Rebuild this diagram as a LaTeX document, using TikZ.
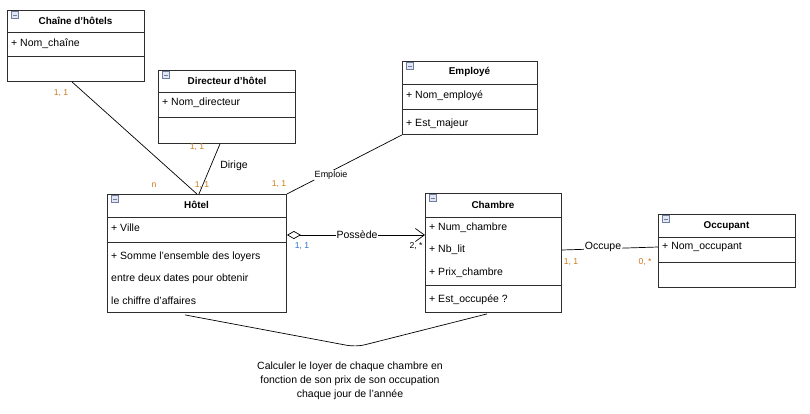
\documentclass[tikz,border=0pt]{standalone}
\usepackage{fontspec}
\setmainfont{Liberation Sans}
\usetikzlibrary{arrows.meta,calc,shadows}
\definecolor{card}{RGB}{205,120,25}
\definecolor{cblue}{RGB}{40,110,200}
\definecolor{bord}{RGB}{45,45,45}
\definecolor{icb}{RGB}{110,125,160}
\definecolor{icf}{RGB}{225,230,242}
\begin{document}
\begin{tikzpicture}[x=1pt,y=-1pt,
  font=\fontsize{10.5}{14}\selectfont,
  cls/.style={draw=bord, fill=white, line width=0.9pt, inner sep=0pt, anchor=north west,
    drop shadow={shadow xshift=1pt, shadow yshift=-1pt, fill=gray!60, opacity=1}},
  sepl/.style={draw=bord, line width=0.9pt},
  hdr/.style={font=\fontsize{9.9}{12}\selectfont\bfseries, inner sep=0pt},
  attr/.style={anchor=west, inner sep=0pt},
  conn/.style={draw=black, line width=0.7pt},
  mult/.style={text=card, inner sep=0pt, font=\fontsize{8.6}{10}\selectfont},
  multb/.style={text=cblue, inner sep=0pt, font=\fontsize{8.6}{10}\selectfont},
  multk/.style={text=black, inner sep=0pt, font=\fontsize{8.6}{10}\selectfont},
  alab/.style={fill=white, inner sep=1pt},
  icon/.pic={\draw[icb, fill=icf, line width=0.6pt] (-3.5,-3.5) rectangle (3.5,3.5);
             \draw[icb, line width=0.8pt] (-2,0) -- (2,0);}
]
\useasboundingbox (0,0) rectangle (810,413);

% ---------- Chaîne d'hôtels
\node[cls, minimum width=137pt, minimum height=71pt] (chaine) at (7,10) {};
\draw[sepl] (7,32.5) -- (144,32.5);
\draw[sepl] (7,56) -- (144,56);
\pic at (15,15) {icon};
\node[hdr] (chaineT) at (75.5,21) {Chaîne d'hôtels};
\node[attr] (chaineA) at (11,44) {+ Nom\_chaîne};

% ---------- Directeur d'hôtel
\node[cls, minimum width=137pt, minimum height=73pt] (dir) at (158,70) {};
\draw[sepl] (158,92) -- (295,92);
\draw[sepl] (158,117) -- (295,117);
\pic at (166,75) {icon};
\node[hdr] (dirT) at (227,81) {Directeur d'hôtel};
\node[attr] (dirA) at (162,103) {+ Nom\_directeur};

% ---------- Employé
\node[cls, minimum width=135pt, minimum height=73pt] (emp) at (402,61) {};
\draw[sepl] (402,84) -- (537,84);
\draw[sepl] (402,109) -- (537,109);
\pic at (410,66) {icon};
\node[hdr] (empT) at (469.5,72) {Employé};
\node[attr] (empA) at (406,96) {+ Nom\_employé};
\node[attr] (empO) at (406,124) {+ Est\_majeur};

% ---------- Hôtel
\node[cls, minimum width=179pt, minimum height=118pt] (hotel) at (107,194) {};
\draw[sepl] (107,217) -- (286,217);
\draw[sepl] (107,242) -- (286,242);
\pic at (115,199) {icon};
\node[hdr] (hotelT) at (196.5,205) {Hôtel};
\node[attr] (hotelA) at (111,228) {+ Ville};
\node[attr] (hotelO1) at (111,257) {+ Somme l'ensemble des loyers};
\node[attr] (hotelO2) at (111,279) {entre deux dates pour obtenir};
\node[attr] (hotelO3) at (111,301) {le chiffre d'affaires};

% ---------- Chambre
\node[cls, minimum width=136pt, minimum height=119pt] (ch) at (425,193) {};
\draw[sepl] (425,217) -- (561,217);
\draw[sepl] (425,285) -- (561,285);
\pic at (433,198) {icon};
\node[hdr] (chT) at (493,205) {Chambre};
\node[attr] (chA1) at (429,228) {+ Num\_chambre};
\node[attr] (chA2) at (429,250) {+ Nb\_lit};
\node[attr] (chA3) at (429,273) {+ Prix\_chambre};
\node[attr] (chO) at (429,300) {+ Est\_occupée ?};

% ---------- Occupant
\node[cls, minimum width=137pt, minimum height=73pt] (occ) at (658,214) {};
\draw[sepl] (658,237) -- (795,237);
\draw[sepl] (658,262) -- (795,262);
\pic at (666,219) {icon};
\node[hdr] (occT) at (726.5,226) {Occupant};
\node[attr] (occA) at (662,247) {+ Nom\_occupant};

% ---------- connectors
\draw[conn] ($(chaine.south west)+(65,0)$) -- (hotel.north);
\draw[conn] ($(dir.south west)+(62,0)$) -- ($(hotel.north)+(2,0)$);
\draw[conn] (emp.south west) -- (hotel.north east);
\draw[conn, {Diamond[open,length=14pt,width=8pt]}-{Straight Barb[length=9pt,width=13pt]}]
  ($(hotel.north east)+(0,41)$) -- ($(ch.north west)+(0,42)$);
\draw[conn] ($(ch.north east)+(0,57)$) -- ($(occ.north west)+(0,33)$);
\coordinate (apex) at (356,347);
\draw[conn, rounded corners=9pt] ($(hotel.south west)+(78,2)$) -- (apex) -- ($(ch.south west)+(62,1)$);

% ---------- association labels
\node[alab] (lDirige) at (234,166) {Dirige};
\node[alab, font=\fontsize{9}{11}\selectfont] (lEmploie) at (331,175) {Emploie};
\node[alab] (lPossede) at (357,235) {Possède};
\node[alab] (lOccupe) at (603,247) {Occupe};

% ---------- multiplicities
\node[mult] (m1) at (61,93) {1, 1};
\node[mult] (m2) at (154,185) {n};
\node[mult] (m3) at (197,147) {1, 1};
\node[mult] (m4) at (202,185) {1, 1};
\node[mult] (m5) at (279,184) {1, 1};
\node[multb] (m6) at (302,246) {1, 1};
\node[multk] (m7) at (416,246) {2, *};
\node[mult] (m8) at (571,262) {1, 1};
\node[mult] (m9) at (645,262) {0, *};

% ---------- note
\node[align=center, inner sep=0pt] (note) at (350,381)
  {Calculer le loyer de chaque chambre en\\fonction de son prix de son occupation\\chaque jour de l'année};
\end{tikzpicture}
\end{document}
